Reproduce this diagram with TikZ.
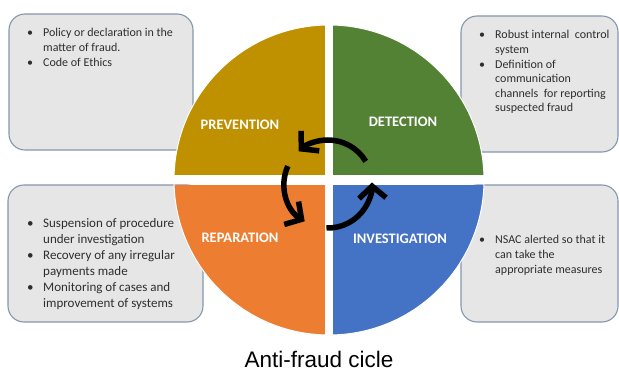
\documentclass[tikz,border=0pt]{standalone}
\usepackage{fontspec}
\setmainfont{Carlito}
\newfontfamily\capfont{Liberation Sans}
\usetikzlibrary{arrows.meta}
\definecolor{cgold}{HTML}{BF9000}
\definecolor{cgreen}{HTML}{548235}
\definecolor{corange}{HTML}{ED7D31}
\definecolor{cblue}{HTML}{4472C4}
\definecolor{boxfill}{HTML}{E7E6E6}
\definecolor{boxline}{HTML}{8497B0}
\definecolor{txt}{HTML}{2E2E2E}
\begin{document}
\begin{tikzpicture}[x=1pt,y=-1pt,
  infobox/.style={fill=boxfill, draw=boxline, line width=1.1pt, rounded corners=16pt},
  infotext/.style={anchor=base west, inner sep=0pt, text=txt, font=\fontsize{12}{14.6}\selectfont},
  quadlabel/.style={text=white, inner sep=0pt, font=\bfseries\fontsize{14.5}{16}\selectfont},
  cyc/.style={line width=5.5pt, -{Straight Barb[length=12pt,width=27pt]}}]
\useasboundingbox (0,0) rectangle (619,371);
% boxes (behind the circle)
\path[infobox] (9,14) rectangle (193,150);
\path[infobox] (461,16) rectangle (618,152);
\path[infobox] (8,185) rectangle (203,322);
\path[infobox] (461,185) rectangle (618,322);
% quadrants
\begin{scope}
  \clip (329,180) circle[radius=155];
  \fill[cgold] (150,0) rectangle (325,175);
  \fill[cgreen] (333,0) rectangle (500,175);
  \fill[corange] (150,185) rectangle (325,350);
  \fill[cblue] (333,185) rectangle (500,350);
\end{scope}
\draw[white, line width=1pt] (329,180) circle[radius=155];
% labels
\node[quadlabel] (prev) at (240,125) {PREVENTION};
\node[quadlabel] (det) at (403,122) {DETECTION};
\node[quadlabel] (rep) at (240,238) {REPARATION};
\node[quadlabel] (inv) at (400,239) {INVESTIGATION};
% cycle arrows
\begin{scope}[shift={(328,184)}, y=1pt]
  \draw[cyc] (31:44) arc[start angle=31, end angle=132, radius=44];
  \draw[cyc] (156:44) arc[start angle=156, end angle=238, radius=44];
  \draw[cyc] (268:44) arc[start angle=268, end angle=362, radius=44];
\end{scope}
% box texts
\node[infotext] (tltext) at (27,37) {\begin{tabular}[t]{@{}p{16pt}@{}l@{}}
\textbullet & Policy or declaration in the\\
 & matter of fraud.\\
\textbullet & Code of Ethics
\end{tabular}};
\node[infotext] (trtext) at (479,39) {\begin{tabular}[t]{@{}p{16pt}@{}l@{}}
\textbullet & Robust internal\ \ control\\
 & system\\
\textbullet & Definition of\\
 & communication\\
 & channels\ \ for reporting\\
 & suspected fraud
\end{tabular}};
\node[infotext, font=\fontsize{13}{16}\selectfont] (bltext) at (27,227.5) {\begin{tabular}[t]{@{}p{16pt}@{}l@{}}
\textbullet & Suspension of procedure\\
 & under investigation\\
\textbullet & Recovery of any irregular\\
 & payments made\\
\textbullet & Monitoring of cases and\\
 & improvement of systems
\end{tabular}};
\node[infotext] (brtext) at (479,244) {\begin{tabular}[t]{@{}p{16pt}@{}l@{}}
\textbullet & NSAC alerted so that it\\
 & can take the\\
 & appropriate measures
\end{tabular}};
% caption
\node[font=\capfont\fontsize{22.5}{26}\selectfont, inner sep=0pt] (cap) at (319,359) {Anti-fraud cicle};
\end{tikzpicture}
\end{document}
